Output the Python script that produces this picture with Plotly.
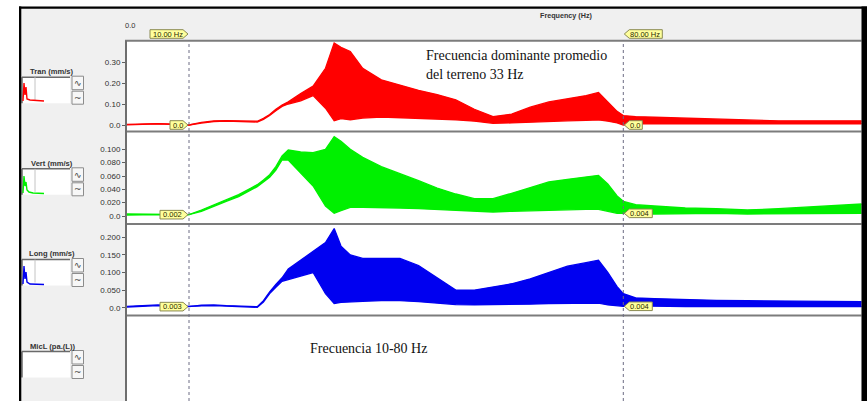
import plotly.graph_objects as go

W, H = 867, 401

# ---- spectrum envelopes (mm/s) sampled along frequency (Hz) ----
freq = [0, 2, 5, 8, 10, 12, 14, 16, 18, 20, 21, 22, 23, 24, 25, 26, 28, 30, 32, 33.4,
        34.5, 36, 38, 41, 44, 47, 50, 53, 56, 59, 62, 65, 68, 71, 74, 76, 77.5, 79, 80,
        82, 85, 90, 95, 100, 105, 110, 115, 118.5]

tran_hi = [0.003, 0.004, 0.007, 0.004, 0.0, 0.012, 0.02, 0.021, 0.02, 0.019, 0.018, 0.032,
           0.05, 0.075, 0.095, 0.11, 0.15, 0.185, 0.27, 0.39,
           0.37, 0.35, 0.27, 0.215, 0.19, 0.165, 0.145, 0.12, 0.075, 0.04, 0.052, 0.085,
           0.11, 0.125, 0.14, 0.155, 0.11, 0.065, 0.045,
           0.04, 0.037, 0.033, 0.028, 0.022, 0.02, 0.02, 0.021, 0.02]
tran_lo = [0.001, 0.002, 0.005, 0.002, 0.0, 0.009, 0.016, 0.018, 0.017, 0.016, 0.014, 0.027,
           0.045, 0.068, 0.088, 0.1, 0.115, 0.14, 0.08, 0.02,
           0.03, 0.025, 0.033, 0.038, 0.035, 0.033, 0.03, 0.025, 0.018, 0.008, 0.01, 0.014,
           0.016, 0.02, 0.022, 0.024, 0.018, 0.01, 0.0,
           0.006, 0.005, 0.005, 0.005, 0.004, 0.004, 0.004, 0.005, 0.005]

vert_hi = [0.003, 0.003, 0.003, 0.002, 0.002, 0.009, 0.017, 0.025, 0.032, 0.042, 0.047, 0.054,
           0.062, 0.074, 0.09, 0.099, 0.096, 0.095, 0.1, 0.119,
           0.112, 0.1, 0.088, 0.074, 0.064, 0.053, 0.042, 0.033, 0.026, 0.026, 0.034, 0.043,
           0.051, 0.055, 0.058, 0.061, 0.048, 0.03, 0.022,
           0.017, 0.015, 0.012, 0.011, 0.009, 0.011, 0.014, 0.016, 0.018]
vert_lo = [0.0015, 0.002, 0.002, 0.001, 0.002, 0.007, 0.015, 0.022, 0.029, 0.039, 0.044, 0.051,
           0.058, 0.069, 0.084, 0.084, 0.065, 0.045, 0.015, 0.004,
           0.008, 0.013, 0.013, 0.013, 0.012, 0.011, 0.01, 0.008, 0.007, 0.006, 0.007, 0.008,
           0.009, 0.01, 0.01, 0.01, 0.007, 0.004, 0.004,
           0.003, 0.003, 0.004, 0.004, 0.003, 0.003, 0.004, 0.004, 0.004]

long_hi = [0.004, 0.005, 0.008, 0.005, 0.003, 0.007, 0.008, 0.006, 0.004, 0.003, 0.003, 0.02,
           0.045, 0.066, 0.085, 0.11, 0.135, 0.16, 0.185, 0.225,
           0.175, 0.15, 0.14, 0.14, 0.14, 0.12, 0.085, 0.05, 0.05, 0.058, 0.068, 0.082,
           0.1, 0.118, 0.128, 0.135, 0.1, 0.06, 0.04,
           0.028, 0.026, 0.023, 0.021, 0.02, 0.019, 0.018, 0.017, 0.017]
long_lo = [0.002, 0.003, 0.006, 0.003, 0.003, 0.005, 0.006, 0.004, 0.002, 0.001, 0.001, 0.016,
           0.04, 0.058, 0.075, 0.08, 0.09, 0.1, 0.04, 0.012,
           0.015, 0.017, 0.018, 0.02, 0.02, 0.017, 0.012, 0.009, 0.008, 0.008, 0.009, 0.01,
           0.012, 0.013, 0.013, 0.013, 0.008, 0.005, 0.004,
           0.005, 0.004, 0.003, 0.003, 0.003, 0.003, 0.003, 0.003, 0.003]

# cursor positions and readouts
cursor_hz = [10, 80]
cursor_text = ["10.00 Hz", "80.00 Hz"]
tran_cursor = [0.0, 0.0]
vert_cursor = [0.002, 0.004]
long_cursor = [0.003, 0.004]
tran_cursor_text = ["0.0", "0.0"]
vert_cursor_text = ["0.002", "0.004"]
long_cursor_text = ["0.003", "0.004"]

# axis ticks
tran_ticks = [0, 0.1, 0.2, 0.3]
tran_ticktext = ["0.0", "0.10", "0.20", "0.30"]
vert_ticks = [0, 0.02, 0.04, 0.06, 0.08, 0.1]
vert_ticktext = ["0.0", "0.020", "0.040", "0.060", "0.080", "0.100"]
long_ticks = [0, 0.05, 0.1, 0.15, 0.2]
long_ticktext = ["0.0", "0.050", "0.100", "0.150", "0.200"]

channel_names = ["Tran (mm/s)", "Vert (mm/s)", "Long (mm/s)", "MicL (pa.(L))"]
channel_colors = ["#ff0000", "#00f000", "#0000f0", None]


def px(x):
    return x / W


def py(y):
    return 1 - y / H


# pixel layout of the four stacked panels
PLOT_L, PLOT_R = 126, 861.5
panel_px = [(40.7, 131.5), (131.5, 224), (224, 315.5), (315.5, 401)]
zero_px = [125, 216, 307.7]
px_per_unit = [210, 666.7, 352]

fig = go.Figure()

series = [(tran_lo, tran_hi), (vert_lo, vert_hi), (long_lo, long_hi)]
for i, (lo, hi) in enumerate(series):
    ya = "y" if i == 0 else f"y{i + 1}"
    c = channel_colors[i]
    fig.add_trace(go.Scatter(x=freq, y=lo, mode="lines", line=dict(color=c, width=1.3),
                             xaxis="x", yaxis=ya, hoverinfo="skip", showlegend=False))
    fig.add_trace(go.Scatter(x=freq, y=hi, mode="lines", line=dict(color=c, width=1.3),
                             fill="tonexty", fillcolor=c,
                             xaxis="x", yaxis=ya, hoverinfo="skip", showlegend=False))

# frequency scale: 10 Hz and 80 Hz cursors sit at 189 px and 623.3 px
hz_px = (623.3 - 189) / 70.0
x_lo = 10 - (189 - PLOT_L) / hz_px
x_hi = 10 + (PLOT_R - 189) / hz_px

layout = dict(
    width=W, height=H, margin=dict(l=0, r=0, t=0, b=0),
    paper_bgcolor="#f0f0f0", plot_bgcolor="rgba(0,0,0,0)",
    showlegend=False,
    xaxis=dict(domain=[px(PLOT_L), px(PLOT_R)], range=[x_lo, x_hi], showticklabels=False,
               showgrid=False, zeroline=False, showline=False, ticks="", anchor="y4",
               fixedrange=True),
)

ticks_all = [(tran_ticks, tran_ticktext), (vert_ticks, vert_ticktext), (long_ticks, long_ticktext)]
for i in range(4):
    top, bot = panel_px[i]
    key = "yaxis" if i == 0 else f"yaxis{i + 1}"
    ax = dict(domain=[py(bot), py(top)], anchor="x", showgrid=False, zeroline=False,
              showline=False, fixedrange=True)
    if i < 3:
        z, s = zero_px[i], px_per_unit[i]
        tv, tt = ticks_all[i]
        ax.update(range=[(z - bot) / s, (z - top) / s], tickvals=tv, ticktext=tt,
                  ticks="outside", ticklen=3, tickwidth=1, tickcolor="#606060",
                  tickfont=dict(family="Liberation Sans", size=8, color="#303030"))
    else:
        ax.update(range=[0, 1], showticklabels=False, ticks="")
    layout[key] = ax

fig.update_layout(**layout)

shapes = []
annots = []

# white plotting area
shapes.append(dict(type="rect", xref="paper", yref="paper", x0=px(PLOT_L), x1=px(PLOT_R),
                   y0=0, y1=py(40.7), fillcolor="white", line=dict(width=0), layer="below"))

# panel separators and left edge
for top, _ in panel_px:
    shapes.append(dict(type="line", xref="paper", yref="paper", x0=px(PLOT_L - 1), x1=px(PLOT_R),
                       y0=py(top), y1=py(top), line=dict(color="#7c7c7c", width=2)))
shapes.append(dict(type="line", xref="paper", yref="paper", x0=px(PLOT_L), x1=px(PLOT_L),
                   y0=0, y1=py(40.7), line=dict(color="#6e6e6e", width=2)))

# dotted cursor lines
for hz in cursor_hz:
    shapes.append(dict(type="line", xref="x", yref="paper", x0=hz, x1=hz, y0=0, y1=py(40.7),
                       line=dict(color="#6c6c84", width=1, dash="dot")))

TAG_FILL = "#ffff9c"
TAG_LINE = "#8a8a52"
TAG_FONT = dict(family="Liberation Sans", size=7.5, color="#2a2a00")


def add_tag(hz, yval, yref, text, width, pointing_right):
    """Yellow cursor readout with an arrow tip touching the cursor line."""
    h = 4.3
    if pointing_right:
        path = (f"M {-1 - width},{-h} L -6,{-h} L -1,0 L -6,{h} L {-1 - width},{h} Z")
        center = (-1 - width - 4) / 2
    else:
        path = (f"M 1,0 L 6,{-h} L {1 + width},{-h} L {1 + width},{h} L 6,{h} Z")
        center = (1 + width + 4) / 2
    shapes.append(dict(type="path", xref="x", yref=yref, xsizemode="pixel", ysizemode="pixel",
                       xanchor=hz, yanchor=yval, path=path, fillcolor=TAG_FILL,
                       line=dict(color=TAG_LINE, width=1)))
    annots.append(dict(x=hz, y=yval, xref="x", yref=yref, text=text, showarrow=False,
                       xanchor="center", yanchor="middle", xshift=center, yshift=0,
                       font=TAG_FONT))


# header cursor tags
for j, hz in enumerate(cursor_hz):
    add_tag(hz, py(34), "paper", cursor_text[j], 38, j == 0)

# readouts in each channel
readouts = [(tran_cursor, tran_cursor_text), (vert_cursor, vert_cursor_text),
            (long_cursor, long_cursor_text)]
for i, (vals, texts) in enumerate(readouts):
    yref = "y" if i == 0 else f"y{i + 1}"
    for j, hz in enumerate(cursor_hz):
        wdt = 18 if len(texts[j]) <= 3 else 28
        add_tag(hz, vals[j], yref, texts[j], wdt, j == 0)

# header texts
annots.append(dict(x=px(123), y=py(25), xref="paper", yref="paper", text="0.0",
                   showarrow=False, xanchor="left", yanchor="middle",
                   font=dict(family="Liberation Sans", size=7.5, color="#333333")))
annots.append(dict(x=px(566), y=py(16), xref="paper", yref="paper", text="<b>Frequency (Hz)</b>",
                   showarrow=False, xanchor="center", yanchor="middle",
                   font=dict(family="Liberation Sans", size=7.2, color="#333333")))

# left-hand channel widgets
label_y = [71.7, 163.3, 254, 346]
thumb_paths = [
    "M23,101 L24,83 L25,95 L26,87 L27,99 L30,100 L44,101",
    "M23,193 L24,176 L25,186 L26,182 L27,190 L29,192 L33,193 L44,193.5",
    "M23,284 L24,266 L25,279 L26,272 L27,282 L30,284 L44,284.5",
]
for i, ly in enumerate(label_y):
    annots.append(dict(x=px(52), y=py(ly), xref="paper", yref="paper",
                       text=f"<b>{channel_names[i]}</b>", showarrow=False,
                       xanchor="center", yanchor="middle",
                       font=dict(family="Liberation Sans", size=7.6, color="#333333")))
    bt, bb = ly + 5.5, ly + 31.5
    shapes.append(dict(type="rect", xref="paper", yref="paper", x0=px(22), x1=px(70),
                       y0=py(bb), y1=py(bt), fillcolor="white", line=dict(width=0)))
    shapes.append(dict(type="line", xref="paper", yref="paper", x0=px(22), x1=px(70),
                       y0=py(bt), y1=py(bt), line=dict(color="#6a6a6a", width=1.5)))
    shapes.append(dict(type="line", xref="paper", yref="paper", x0=px(22), x1=px(22),
                       y0=py(bb), y1=py(bt), line=dict(color="#6a6a6a", width=1.5)))
    if i < 3:
        shapes.append(dict(type="line", xref="paper", yref="paper", x0=px(35), x1=px(35),
                           y0=py(bb - 3), y1=py(bt), line=dict(color="#c4c4c4", width=1)))
        pts = thumb_paths[i]
        # convert the small pixel path to paper coordinates
        segs = []
        for tok in pts.split(" "):
            cmd, xy = tok[0], tok[1:]
            xs, ys = xy.split(",")
            segs.append(f"{cmd}{px(float(xs)):.5f},{py(float(ys)):.5f}")
        shapes.append(dict(type="path", xref="paper", yref="paper", path=" ".join(segs),
                           line=dict(color=channel_colors[i], width=1.4)))
    # the two small buttons
    for k, (b0, b1, glyph) in enumerate([(bt - 1, bt + 12.5, "∿"), (bt + 14, bt + 27, "~")]):
        shapes.append(dict(type="rect", xref="paper", yref="paper", x0=px(72), x1=px(83.5),
                           y0=py(b1), y1=py(b0), fillcolor="#f7f7f7",
                           line=dict(color="#8c8c8c", width=1)))
        annots.append(dict(x=px(77.8), y=py((b0 + b1) / 2), xref="paper", yref="paper",
                           text=glyph, showarrow=False, xanchor="center", yanchor="middle",
                           font=dict(family="DejaVu Sans", size=9, color="#404040")))

# outer frame
shapes.append(dict(type="rect", xref="paper", yref="paper", x0=0, x1=px(19), y0=0, y1=1,
                   fillcolor="white", line=dict(width=0)))
shapes.append(dict(type="rect", xref="paper", yref="paper", x0=0, x1=1, y0=py(6.5), y1=1,
                   fillcolor="white", line=dict(width=0)))
shapes.append(dict(type="rect", xref="paper", yref="paper", x0=px(19), x1=1, y0=py(8.8),
                   y1=py(6.5), fillcolor="black", line=dict(width=0)))
shapes.append(dict(type="rect", xref="paper", yref="paper", x0=px(19), x1=px(21.3), y0=0,
                   y1=py(6.5), fillcolor="black", line=dict(width=0)))
shapes.append(dict(type="rect", xref="paper", yref="paper", x0=px(861.5), x1=1, y0=0,
                   y1=py(6.5), fillcolor="black", line=dict(width=0)))

# explanatory notes
NOTE_FONT = dict(family="Liberation Serif", size=14, color="#111111")
annots.append(dict(x=px(424), y=py(55), xref="paper", yref="paper",
                   text="Frecuencia dominante promedio", showarrow=False,
                   xanchor="left", yanchor="middle", font=NOTE_FONT))
annots.append(dict(x=px(424), y=py(74), xref="paper", yref="paper",
                   text="del terreno 33 Hz", showarrow=False,
                   xanchor="left", yanchor="middle", font=NOTE_FONT))
annots.append(dict(x=px(308), y=py(348), xref="paper", yref="paper",
                   text="Frecuencia 10-80 Hz", showarrow=False,
                   xanchor="left", yanchor="middle", font=NOTE_FONT))

fig.update_layout(shapes=shapes, annotations=annots)
fig.write_html("out.html")
